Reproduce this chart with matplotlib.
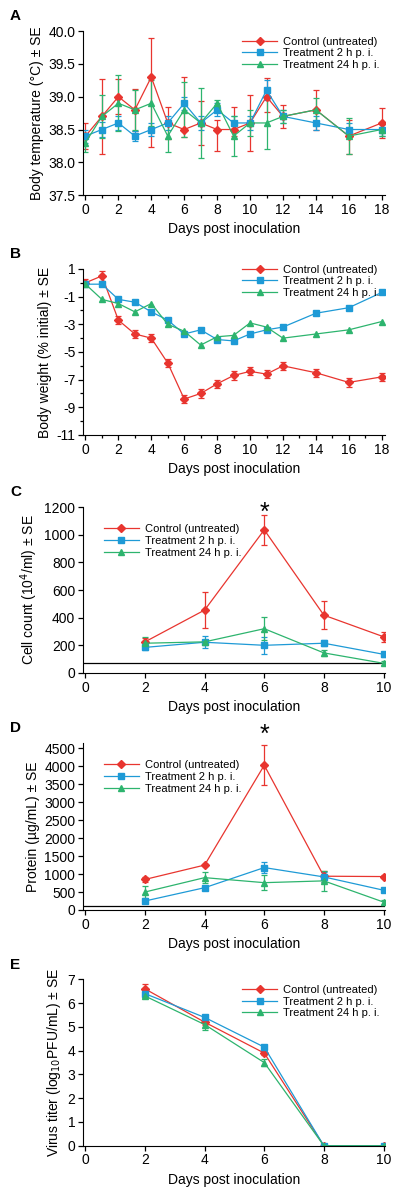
import numpy as np
import matplotlib
matplotlib.use("Agg")
from matplotlib import pyplot as plt
from matplotlib.ticker import MultipleLocator, FormatStrFormatter
from matplotlib.lines import Line2D

plt.rcParams["font.family"] = ["Liberation Sans", "DejaVu Sans"]
plt.rcParams["axes.unicode_minus"] = False

labels = ["Control (untreated)", "Treatment 2 h p. i.", "Treatment 24 h p. i."]
colors = ["#e8352f", "#1e9ad6", "#2db46e"]
markers = ["D", "s", "^"]
msizes = [4, 5, 5]

# Panel A - body temperature
days_ab = [0, 1, 2, 3, 4, 5, 6, 7, 8, 9, 10, 11, 12, 14, 16, 18]
temp_ctrl = [38.4, 38.7, 39.0, 38.8, 39.3, 38.6, 38.5, 38.6, 38.5, 38.5, 38.6, 39.0, 38.7, 38.8, 38.4, 38.6]
temp_ctrl_lo = [0.2, 0.57, 0.27, 0.32, 1.07, 0.25, 0.12, 0.33, 0.33, 0.1, 0.43, 0.24, 0.18, 0.31, 0.27, 0.23]
temp_ctrl_hi = [0.2, 0.57, 0.27, 0.32, 0.6, 0.25, 0.8, 0.33, 0.15, 0.35, 0.43, 0.28, 0.18, 0.31, 0.25, 0.23]
temp_t2 = [38.4, 38.5, 38.6, 38.4, 38.5, 38.6, 38.9, 38.6, 38.8, 38.6, 38.6, 39.1, 38.7, 38.6, 38.5, 38.5]
temp_t2_se = [0.1, 0.12, 0.1, 0.08, 0.1, 0.1, 0.1, 0.1, 0.1, 0.1, 0.1, 0.15, 0.1, 0.1, 0.1, 0.1]
temp_t24 = [38.3, 38.7, 38.9, 38.8, 38.9, 38.4, 38.8, 38.6, 38.9, 38.4, 38.6, 38.6, 38.7, 38.8, 38.4, 38.5]
temp_t24_se = [0.15, 0.33, 0.43, 0.3, 0.35, 0.25, 0.42, 0.53, 0.05, 0.3, 0.2, 0.4, 0.1, 0.18, 0.27, 0.1]

# Panel B - body weight
wt_ctrl = [0.0, 0.5, -2.7, -3.7, -4.0, -5.8, -8.4, -8.0, -7.3, -6.7, -6.4, -6.6, -6.0, -6.5, -7.2, -6.8]
wt_ctrl_se = [0.25, 0.35, 0.3, 0.3, 0.3, 0.3, 0.3, 0.3, 0.3, 0.3, 0.3, 0.3, 0.3, 0.3, 0.3, 0.3]
wt_t2 = [-0.1, -0.1, -1.2, -1.4, -2.1, -2.7, -3.7, -3.4, -4.1, -4.2, -3.7, -3.4, -3.2, -2.2, -1.8, -0.7]
wt_t24 = [-0.1, -1.2, -1.5, -2.1, -1.5, -3.0, -3.5, -4.5, -3.9, -3.8, -2.9, -3.2, -4.0, -3.7, -3.4, -2.8]

# Panels C-E
days_cde = [2, 4, 6, 8, 10]
cell_ctrl = [225, 455, 1035, 418, 262]
cell_ctrl_se = [30, 128, 108, 103, 35]
cell_t2 = [185, 222, 200, 215, 135]
cell_t2_se = [20, 45, 60, 20, 20]
cell_t24 = [215, 225, 320, 145, 70]
cell_t24_se = [45, 10, 85, 20, 15]
cell_limit = 70

prot_ctrl = [850, 1250, 4030, 940, 930]
prot_ctrl_se = [60, 30, 550, 150, 30]
prot_t2 = [250, 620, 1180, 920, 550]
prot_t2_se = [50, 50, 150, 150, 30]
prot_t24 = [500, 900, 760, 810, 220]
prot_t24_se = [180, 150, 200, 280, 70]
prot_limit = 100

vir_ctrl = [6.6, 5.2, 3.9, 0, 0]
vir_ctrl_se = [0.2, 0.1, 0.1, 0, 0]
vir_t2 = [6.4, 5.4, 4.15, 0, 0]
vir_t2_se = [0.08, 0.08, 0.08, 0, 0]
vir_t24 = [6.3, 5.1, 3.5, 0, 0]
vir_t24_se = [0.08, 0.25, 0.15, 0, 0]

fig = plt.figure(figsize=(4.0, 11.97), dpi=100)

def panel(rect, x, series, errs, ylabel, letter):
    ax = fig.add_axes(rect)
    for i in range(3):
        ax.errorbar(x, series[i], yerr=errs[i], color=colors[i], marker=markers[i],
                    ms=msizes[i], lw=0.9, elinewidth=0.9, capsize=2.5, capthick=0.9)
    for s in ["top", "right"]:
        ax.spines[s].set_visible(False)
    ax.tick_params(labelsize=10, direction="out", length=3.5, width=0.9, pad=2)
    ax.tick_params(which="minor", length=2.5, width=0.9)
    ax.set_xlabel("Days post inoculation", fontsize=10, labelpad=4)
    ax.set_ylabel(ylabel, fontsize=10, labelpad=3)
    fig.text(0.025, rect[1] + rect[3] + 0.009, letter, fontsize=11, fontweight="bold")
    return ax

def legend(ax, loc, anchor=None):
    handles = [Line2D([], [], color=colors[i], marker=markers[i], ms=msizes[i], lw=0.9)
               for i in range(3)]
    lg = ax.legend(handles, labels, loc=loc, frameon=False, fontsize=8, handlelength=3.2,
                   labelspacing=0.15, borderaxespad=0.1, handletextpad=0.5, numpoints=1)
    if anchor is not None:
        lg.set_bbox_to_anchor(anchor)

# A
ax = panel([0.2075, 0.837, 0.755, 0.137], days_ab, [temp_ctrl, temp_t2, temp_t24],
           [[temp_ctrl_lo, temp_ctrl_hi], temp_t2_se, temp_t24_se],
           "Body temperature (°C) ± SE", "A")
ax.set_xlim(-0.15, 18.2)
ax.set_ylim(37.5, 40.0)
ax.xaxis.set_major_locator(MultipleLocator(2))
ax.xaxis.set_minor_locator(MultipleLocator(1))
ax.yaxis.set_major_locator(MultipleLocator(0.5))
ax.yaxis.set_major_formatter(FormatStrFormatter("%.1f"))
legend(ax, "upper right")

# B
ax = panel([0.2075, 0.6366, 0.755, 0.1387], days_ab, [wt_ctrl, wt_t2, wt_t24],
           [wt_ctrl_se, None, None], "Body weight (% initial) ± SE", "B")
ax.set_xlim(-0.15, 18.2)
ax.set_ylim(-11, 1)
ax.set_yticks([1, -1, -3, -5, -7, -9, -11])
ax.yaxis.set_minor_locator(MultipleLocator(1))
ax.xaxis.set_major_locator(MultipleLocator(2))
ax.xaxis.set_minor_locator(MultipleLocator(1))
legend(ax, "upper right", (1.0, 1.06))

# C
ax = panel([0.2075, 0.4378, 0.755, 0.1386], days_cde, [cell_ctrl, cell_t2, cell_t24],
           [cell_ctrl_se, cell_t2_se, cell_t24_se], "Cell count (10$^4$/ml) ± SE", "C")
ax.axhline(cell_limit, color="black", lw=0.9, zorder=0)
ax.set_xlim(-0.08, 10.05)
ax.set_ylim(0, 1200)
ax.yaxis.set_major_locator(MultipleLocator(200))
ax.text(6, 1160, "*", fontsize=18, ha="center", va="center")
legend(ax, "upper left", (0.05, 0.93))

# D
ax = panel([0.2075, 0.2398, 0.755, 0.1395], days_cde, [prot_ctrl, prot_t2, prot_t24],
           [prot_ctrl_se, prot_t2_se, prot_t24_se], "Protein (µg/mL) ± SE", "D")
ax.axhline(prot_limit, color="black", lw=0.9, zorder=0)
ax.set_xlim(-0.08, 10.05)
ax.set_ylim(0, 4650)
ax.set_yticks(np.arange(0, 4501, 500))
ax.text(6, 4880, "*", fontsize=18, ha="center", va="center", clip_on=False)
legend(ax, "upper left", (0.05, 0.93))

# E
ax = panel([0.2075, 0.0428, 0.755, 0.1390], days_cde, [vir_ctrl, vir_t2, vir_t24],
           [vir_ctrl_se, vir_t2_se, vir_t24_se],
           "Virus titer (log$_{10}$PFU/mL) ± SE", "E")
ax.set_xlim(-0.08, 10.05)
ax.set_ylim(0, 7)
ax.yaxis.set_major_locator(MultipleLocator(1))
legend(ax, "upper right")

plt.savefig("out.png", dpi=100)
